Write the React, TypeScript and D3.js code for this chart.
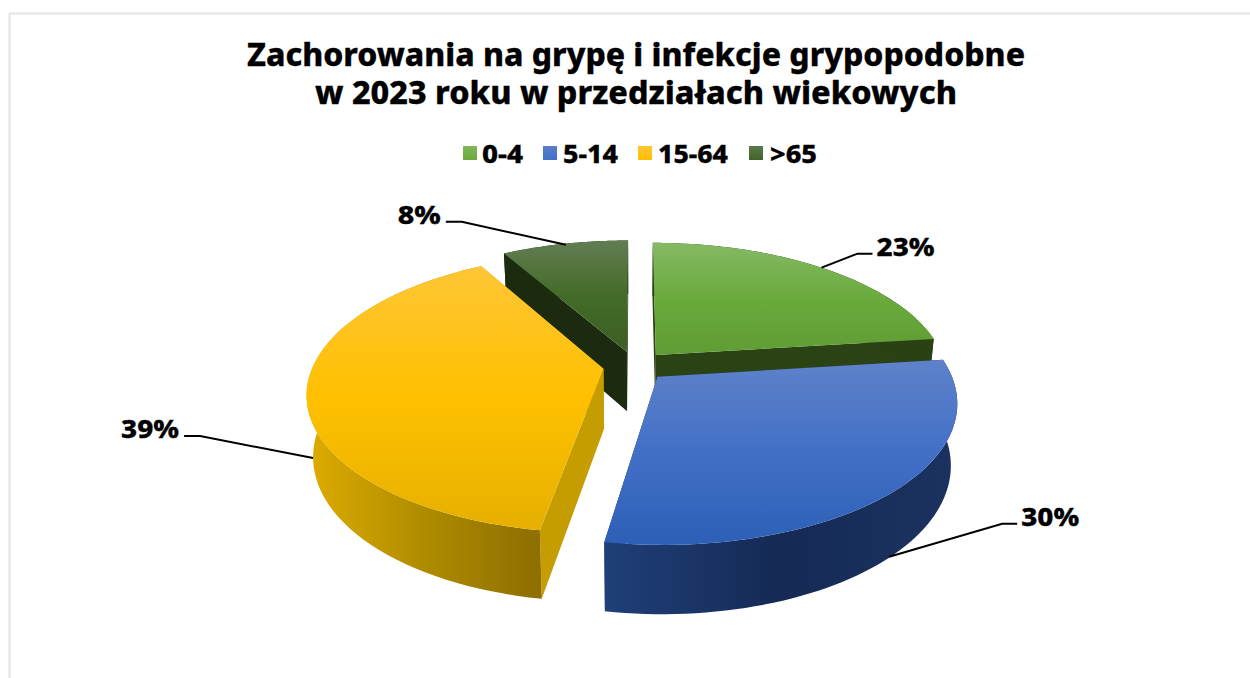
import React from "react";
import * as d3 from "d3";

// ---- data ----
const titleLines = ["Zachorowania na grypę i infekcje grypopodobne", "w 2023 roku w przedziałach wiekowych"];
const categories = ["0-4", "5-14", "15-64", ">65"];
const values = [23, 29.6, 39.1, 8.3];
const topColors = [
  ["#85b964", "#6aaa3c", "#5f9c35"],
  ["#5f82ca", "#4270c6", "#2d5fb6"],
  ["#ffc636", "#ffc000", "#e6b000"],
  ["#627d53", "#436b28", "#3b5e23"],
];
const legendColors = [
  ["#80b65c", "#6aaa3c"],
  ["#5a7dc9", "#4270c6"],
  ["#ffc636", "#ffc000"],
  ["#5b7a4b", "#3f6426"],
];
const wallColors = [
  ["#2a4114", "#2a4114"],
  ["#1f3f78", "#152a55", "#1b3260"],
  ["#dcaa00", "#ad8b00", "#8d6e00"],
  ["#243320", "#1a2b0e"],
];
const cutColors = ["#2b4215", "#1d3a70", "#c69d00", "#1c2b10"];

// ---- layout ----
const W = 1250, H = 678;
const F = 290.5, T = 135, K = 0.172, DEPTH = 60, EXPLODE = 0.11, SHRINK = 0.98;
const PX = 635, PY = 366;
const xS = d3.scaleLinear().domain([0, 1]).range([PX, PX + F]);
const yS = d3.scaleLinear().domain([0, 1]).range([PY, PY + T]);

type P = [number, number];
const top = (u: number, v: number): P => {
  const w = 1 - K * v;
  return [xS(u / w), yS(v / w)];
};
const bottom = (u: number, v: number): P => {
  const w = 1 - K * v;
  const [x, y] = top(u, v);
  return [PX + (x - PX) * SHRINK, y + DEPTH / Math.pow(w, 0.7)];
};
const dir = (a: number): P => [Math.sin(a), -Math.cos(a)];

const pieGen = d3.pie<number>().sort(null).value((d) => d);
const arcs = pieGen(values);
const line = d3.line<P>();
const closed = (pts: P[]) => line(pts) + "Z";

const geo = arcs.map((a) => {
  const mid = (a.startAngle + a.endAngle) / 2;
  const [mu, mv] = dir(mid);
  const apex: P = [mu * EXPLODE, mv * EXPLODE];
  const rim: P[] = d3.range(0, 65).map((i) => {
    const t = a.startAngle + ((a.endAngle - a.startAngle) * i) / 64;
    const [u, v] = dir(t);
    return [apex[0] + u, apex[1] + v];
  });
  const midRim: P = [apex[0] + mu, apex[1] + mv];
  return { apex, rim, midRim };
});

// leader geometry relative to the rim anchor at the slice's mid angle
const leaderBase = [true, false, false, true]; // top rim (back slices) or wall's bottom rim (front slices)
const leaderNudge: P[] = [[0, 0], [0, -1], [0, 3], [1, 1]];
const leaderElbow: P[] = [[36, -14], [113, -33], [-113, -22], [-104, -23]];
const leaderTail = [15, 15, -16, -16];

const pct = (v: number) => d3.format(".0f")((v / d3.sum(values)) * 100) + "%";
const FONT = "'Noto Sans', sans-serif";
const HEAVY = { fontWeight: 800, stroke: "#000", strokeWidth: 0.3 };

const legendX = [463, 543, 638, 749];
const legendTextX = [482, 563, 658, 770];
const legendTextW = [41, 55, 70, 47];
const labelWidth = (s: string) => (s.length > 2 ? 58 : 43);

export default function App() {
  return (
    <svg width={W} height={H} style={{ position: "absolute", left: 0, top: 0, display: "block" }} fontFamily={FONT} fontWeight={800}>
      <defs>
        {geo.map((g, i) => {
          const pts = [top(...g.apex), ...g.rim.map((p) => top(...p))];
          const [y0, y1] = d3.extent(pts, (p) => p[1]) as [number, number];
          return (
            <linearGradient key={i} id={`top${i}`} gradientUnits="userSpaceOnUse" x1={0} x2={0} y1={y0} y2={y1}>
              {topColors[i].map((c, j) => (
                <stop key={j} offset={j / (topColors[i].length - 1)} stopColor={c} />
              ))}
            </linearGradient>
          );
        })}
        {legendColors.map((cs, i) => (
          <linearGradient key={i} id={`leg${i}`} x1={0} x2={0} y1={0} y2={1}>
            {cs.map((c, j) => (
              <stop key={j} offset={j} stopColor={c} />
            ))}
          </linearGradient>
        ))}
        {geo.map((g, i) => {
          const [x0, x1] = d3.extent(g.rim.filter((p) => p[1] > 0).map((p) => bottom(...p)), (p) => p[0]) as [number, number];
          return (
            <linearGradient key={i} id={`wall${i}`} gradientUnits="userSpaceOnUse" x1={x0 ?? 0} x2={x1 ?? 1} y1={0} y2={0}>
              {wallColors[i].map((c, j) => (
                <stop key={j} offset={j / (wallColors[i].length - 1)} stopColor={c} />
              ))}
            </linearGradient>
          );
        })}
      </defs>
      <rect width={W} height={H} fill="#fff" />
      <path d={`M9.5 ${H}V13.5H${W}`} fill="none" stroke="#e1e5e8" strokeWidth={2} />

      {titleLines.map((t, i) => (
        <text key={i} x={636} y={[66, 103.5][i]} textAnchor="middle" fontSize={32} fill="#000" {...HEAVY} textLength={[778, 642][i]} lengthAdjust="spacingAndGlyphs">
          {t}
        </text>
      ))}

      {categories.map((c, i) => (
        <g key={c}>
          <rect x={legendX[i]} y={146} width={14} height={14} fill={`url(#leg${i})`} />
          <text x={legendTextX[i]} y={163} fontSize={25} fill="#000" {...HEAVY} textLength={legendTextW[i]} lengthAdjust="spacingAndGlyphs">
            {c}
          </text>
        </g>
      ))}

      {[3, 0, 2, 1].map((i) => {
        const g = geo[i];
        const tops = g.rim.map((p) => top(...p));
        const bots = g.rim.map((p) => bottom(...p));
        const at = top(...g.apex), ab = bottom(...g.apex);
        const n = tops.length - 1;
        return (
          <g key={i}>
            <path d={closed([at, tops[0], bots[0], ab])} fill={cutColors[i]} />
            <path d={closed([at, tops[n], bots[n], ab])} fill={cutColors[i]} />
            <path d={closed([...tops, ...[...bots].reverse()])} fill={`url(#wall${i})`} />
            <path d={closed([at, ...tops])} fill={`url(#top${i})`} />
          </g>
        );
      })}

      {geo.map((g, i) => {
        const b = leaderBase[i] ? top(...g.midRim) : bottom(...g.midRim);
        const a: P = [b[0] + leaderNudge[i][0], b[1] + leaderNudge[i][1]];
        const e: P = [a[0] + leaderElbow[i][0], a[1] + leaderElbow[i][1]];
        const t: P = [e[0] + leaderTail[i], e[1]];
        const right = leaderTail[i] > 0;
        const s = pct(values[i]);
        return (
          <g key={i}>
            <path d={line([a, e, t]) as string} fill="none" stroke="#000" strokeWidth={2} />
            <text x={t[0] + (right ? 4 : -5)} y={t[1] + 2} textAnchor={right ? "start" : "end"} fontSize={25} fill="#000" {...HEAVY} textLength={labelWidth(s)} lengthAdjust="spacingAndGlyphs">
              {s}
            </text>
          </g>
        );
      })}
    </svg>
  );
}
